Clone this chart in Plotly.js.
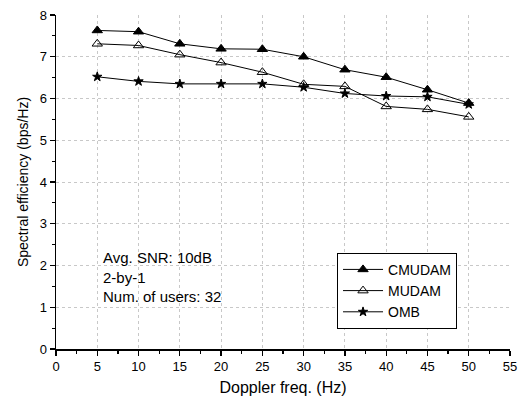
<!DOCTYPE html>
<html>
<head>
<meta charset="utf-8">
<script src="https://cdn.plot.ly/plotly-3.0.1.min.js"></script>
<style>body{margin:0;background:#fff}#chart{width:518px;height:402px}</style>
</head>
<body>
<div id="chart"></div>
<script>
const doppler = [5, 10, 15, 20, 25, 30, 35, 40, 45, 50];
const cmudam = [7.63, 7.60, 7.31, 7.19, 7.18, 7.00, 6.69, 6.51, 6.21, 5.89];
const mudam  = [7.31, 7.27, 7.05, 6.86, 6.63, 6.34, 6.29, 5.81, 5.74, 5.56];
const omb    = [6.52, 6.41, 6.35, 6.35, 6.35, 6.27, 6.12, 6.06, 6.04, 5.86];
const seriesNames = ['CMUDAM', 'MUDAM', 'OMB'];
const infoLines = ['Avg. SNR: 10dB', '2-by-1', 'Num. of users: 32'];

const font = {family: 'Liberation Sans, Arial, sans-serif', color: '#000'};
function tr(y, name, symbol, size) {
  return {x: doppler, y: y, name: name, type: 'scatter', mode: 'lines+markers',
    line: {color: '#000', width: 1},
    marker: {symbol: symbol, size: size, color: '#000', line: {color: '#000', width: 1}}};
}
const data = [
  tr(cmudam, seriesNames[0], 'triangle-up', 9),
  tr(mudam, seriesNames[1], 'triangle-up-open', 9),
  tr(omb, seriesNames[2], 'star', 7)
];
const layout = {
  width: 518, height: 402,
  margin: {l: 56, r: 8, t: 15, b: 53},
  paper_bgcolor: '#fff', plot_bgcolor: '#fff',
  font: Object.assign({size: 13}, font),
  showlegend: true,
  legend: {x: 0.619, y: 0.288, xanchor: 'left', yanchor: 'top',
    bordercolor: '#000', borderwidth: 1, bgcolor: '#fff',
    font: Object.assign({size: 14}, font), tracegroupgap: 0, itemwidth: 40},
  xaxis: {range: [0, 55], tick0: 0, dtick: 5, ticks: 'outside', ticklen: 5, tickwidth: 1.2,
    tickcolor: '#000', showline: true, linecolor: '#000', linewidth: 1.5,
    showgrid: true, gridcolor: '#c8c8c8', griddash: 'dot', gridwidth: 1, zeroline: false,
    minor: {dtick: 2.5, ticks: 'outside', ticklen: 3, tickcolor: '#000', showgrid: false},
    tickfont: Object.assign({size: 13}, font),
    title: {text: 'Doppler freq. (Hz)', font: Object.assign({size: 16}, font), standoff: 8}},
  yaxis: {range: [0, 8], tick0: 0, dtick: 1, ticks: 'outside', ticklen: 5, tickwidth: 1.2,
    tickcolor: '#000', showline: true, linecolor: '#000', linewidth: 1.5,
    showgrid: true, gridcolor: '#c8c8c8', griddash: 'dot', gridwidth: 1, zeroline: false,
    minor: {dtick: 0.5, ticks: 'outside', ticklen: 3, tickcolor: '#000', showgrid: false},
    tickfont: Object.assign({size: 13}, font),
    title: {text: 'Spectral efficiency (bps/Hz)', font: Object.assign({size: 14}, font), standoff: 8}},
  annotations: [{
    xref: 'x', yref: 'y', x: 5.5, y: 2.45, xanchor: 'left', yanchor: 'top',
    text: infoLines.join('<br>'), align: 'left', showarrow: false,
    font: Object.assign({size: 15}, font)
  }]
};
Plotly.newPlot('chart', data, layout, {displayModeBar: false, staticPlot: true});
</script>
</body>
</html>
